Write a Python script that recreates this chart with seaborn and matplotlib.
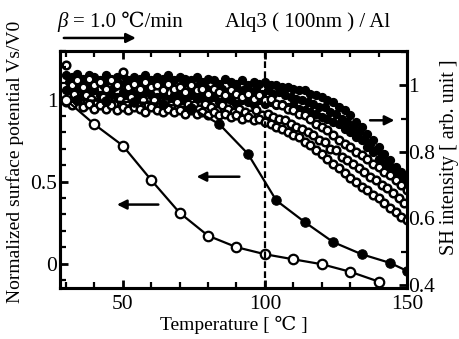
import numpy as np
import pandas as pd
import matplotlib
matplotlib.use('Agg')
import matplotlib.pyplot as plt
import seaborn as sns
from matplotlib.ticker import MultipleLocator, FixedLocator, FuncFormatter

# surface potential (left axis)
temp_open = [30, 40, 50, 60, 70, 80, 90, 100, 110, 120, 130, 140]
vs_open = [1.0, 0.85, 0.72, 0.51, 0.31, 0.17, 0.10, 0.057, 0.026, -0.004, -0.05, -0.11]
temp_fill = [34, 44, 54, 64, 74, 84, 94, 104, 114, 124, 134, 144, 150]
vs_fill = [1.0, 0.99, 0.985, 0.975, 0.95, 0.85, 0.67, 0.385, 0.253, 0.131, 0.057, 0.004, -0.045]

# SH intensity (right axis), several scans
temp_even = [30, 32, 34, 36, 38, 40, 42, 44, 46, 48, 50, 52, 54, 56, 58, 60, 62, 64, 66, 68,
             70, 72, 74, 76, 78, 80, 82, 84, 86, 88, 90, 92, 94, 96, 98, 100, 102, 104, 106, 108,
             110, 112, 114, 116, 118, 120, 122, 124, 126, 128, 130, 132, 134, 136, 138, 140, 142, 144, 146, 148, 150]
temp_odd = [31, 33, 35, 37, 39, 41, 43, 45, 47, 49, 51, 53, 55, 57, 59, 61, 63, 65, 67, 69,
            71, 73, 75, 77, 79, 81, 83, 85, 87, 89, 91, 93, 95, 97, 99, 101, 103, 105, 107, 109,
            111, 113, 115, 117, 119, 121, 123, 125, 127, 129, 131, 133, 135, 137, 139, 141, 143, 145, 147, 149]

sh_fill_a = [1.03, 1.025, 1.035, 1.02, 1.03, 1.025, 1.015, 1.03, 1.02, 1.025, 1.03, 1.015, 1.025, 1.02, 1.03, 1.015, 1.025, 1.02, 1.03, 1.015,
             1.025, 1.02, 1.015, 1.025, 1.01, 1.02, 1.015, 1.005, 1.02, 1.01, 1.005, 1.015, 1.0, 1.01, 1.005, 1.01, 1.0, 1.0, 0.995, 0.995,
             0.99, 0.985, 0.985, 0.975, 0.97, 0.965, 0.955, 0.95, 0.935, 0.925, 0.91, 0.89, 0.875, 0.855, 0.835, 0.815, 0.795, 0.775, 0.755, 0.74, 0.725]
sh_fill_m = [1.01, 0.995, 1.015, 1.005, 0.99, 1.01, 1.0, 1.015, 0.995, 1.005, 1.01, 0.995, 1.005, 1.015, 0.99, 1.0, 1.01, 0.995, 1.005, 0.99,
             1.0, 1.01, 0.99, 1.0, 0.995, 0.985, 1.0, 0.99, 0.98, 0.995, 0.985, 0.99, 0.98, 0.99, 0.975, 0.985, 0.975, 0.98, 0.97, 0.965,
             0.96, 0.955, 0.95, 0.945, 0.935, 0.935, 0.92, 0.915, 0.9, 0.89, 0.875, 0.86, 0.84, 0.825, 0.805, 0.79, 0.77, 0.75, 0.735, 0.715]
sh_fill_b = [0.985, 0.975, 0.99, 0.97, 0.98, 0.985, 0.97, 0.98, 0.975, 0.965, 0.98, 0.97, 0.975, 0.965, 0.98, 0.97, 0.965, 0.975, 0.96, 0.97,
             0.965, 0.955, 0.97, 0.96, 0.965, 0.955, 0.965, 0.95, 0.96, 0.955, 0.945, 0.955, 0.95, 0.94, 0.955, 0.945, 0.95, 0.94, 0.945, 0.935,
             0.94, 0.93, 0.925, 0.92, 0.915, 0.905, 0.9, 0.89, 0.885, 0.87, 0.86, 0.845, 0.835, 0.815, 0.80, 0.78, 0.765, 0.745, 0.73, 0.715, 0.70]
sh_open_c = [1.06, 1.0, 1.015, 0.995, 1.02, 1.0, 1.01, 0.99, 1.015, 1.0, 1.04, 0.995, 1.005, 0.99, 1.01, 0.995, 1.0, 0.985, 1.005, 0.99,
             0.995, 0.98, 1.0, 0.985, 0.99, 0.975, 0.99, 0.98, 0.97, 0.985, 0.975, 0.965, 0.975, 0.96, 0.97, 0.955, 0.96, 0.945, 0.94, 0.93,
             0.925, 0.915, 0.91, 0.90, 0.885, 0.875, 0.865, 0.85, 0.835, 0.825, 0.815, 0.80, 0.79, 0.78, 0.765, 0.755, 0.74, 0.73, 0.715, 0.70, 0.685]
sh_open_e = [0.965, 0.975, 0.955, 0.97, 0.96, 0.95, 0.965, 0.955, 0.945, 0.96, 0.95, 0.965, 0.945, 0.955, 0.94, 0.955, 0.945, 0.95, 0.94, 0.95,
             0.935, 0.945, 0.94, 0.93, 0.945, 0.935, 0.925, 0.94, 0.93, 0.92, 0.93, 0.92, 0.915, 0.925, 0.91, 0.915, 0.905, 0.90, 0.895, 0.885,
             0.875, 0.87, 0.86, 0.85, 0.835, 0.83, 0.81, 0.805, 0.785, 0.775, 0.765, 0.75, 0.74, 0.725, 0.715, 0.70, 0.69, 0.675, 0.66, 0.645]
sh_open_d = [0.95, 0.94, 0.955, 0.935, 0.945, 0.93, 0.94, 0.93, 0.94, 0.925, 0.935, 0.925, 0.935, 0.93, 0.92, 0.935, 0.925, 0.92, 0.93, 0.92,
             0.925, 0.915, 0.925, 0.915, 0.92, 0.91, 0.92, 0.91, 0.915, 0.905, 0.91, 0.90, 0.905, 0.895, 0.90, 0.89, 0.885, 0.875, 0.87, 0.86,
             0.85, 0.845, 0.83, 0.82, 0.805, 0.795, 0.78, 0.765, 0.75, 0.735, 0.72, 0.71, 0.695, 0.685, 0.67, 0.66, 0.645, 0.63, 0.62, 0.605, 0.595]

sns.set_style('ticks')
plt.rcParams['font.family'] = ['Liberation Serif', 'DejaVu Serif']
for key in ['axes.edgecolor', 'xtick.color', 'ytick.color', 'text.color', 'axes.labelcolor']:
    plt.rcParams[key] = 'black'

fig = plt.figure(figsize=(4.59, 3.39), dpi=100)
ax = fig.add_axes([0.131, 0.150, 0.756, 0.701])
ax2 = ax.twinx()

# SH intensity bands
sh_filled = pd.DataFrame({'T': temp_even + temp_odd + temp_even,
                          'SH': sh_fill_a + sh_fill_m + sh_fill_b})
sh_open = pd.DataFrame({'T': temp_even + temp_odd + temp_even,
                        'SH': sh_open_c + sh_open_e + sh_open_d})
sns.scatterplot(data=sh_filled, x='T', y='SH', ax=ax2, s=30, color='black',
                edgecolor='black', linewidth=1.2, zorder=2)
sns.scatterplot(data=sh_open, x='T', y='SH', ax=ax2, s=30, facecolor='white',
                edgecolor='black', linewidth=1.8, zorder=3)

# surface potential curves on top
ax.set_zorder(ax2.get_zorder() + 1)
ax.patch.set_visible(False)
pot_open = pd.DataFrame({'T': temp_open, 'V': vs_open})
pot_fill = pd.DataFrame({'T': temp_fill, 'V': vs_fill})
sns.lineplot(data=pot_fill, x='T', y='V', ax=ax, color='black', lw=1.6, marker='o',
             markersize=6.8, markerfacecolor='black', markeredgecolor='black')
sns.lineplot(data=pot_open, x='T', y='V', ax=ax, color='black', lw=1.6, marker='o',
             markersize=6.8, markerfacecolor='white', markeredgecolor='black', markeredgewidth=1.6)

ax.axvline(100, color='black', ls=(0, (3, 1.5)), lw=1.6)

ax.set_xlim(28, 150)
ax.set_ylim(-0.15, 1.30)
ax2.set_ylim(0.39, 1.105)

ax.xaxis.set_major_locator(FixedLocator([50, 100, 150]))
ax.xaxis.set_minor_locator(MultipleLocator(10))
ax.yaxis.set_major_locator(FixedLocator([0, 0.5, 1]))
ax.yaxis.set_minor_locator(MultipleLocator(0.1))
ax2.yaxis.set_major_locator(FixedLocator([0.4, 0.6, 0.8, 1.0]))
ax2.yaxis.set_minor_locator(MultipleLocator(0.1))
fmt = FuncFormatter(lambda v, p: ('%g' % v))
ax.yaxis.set_major_formatter(fmt)
ax2.yaxis.set_major_formatter(fmt)

ax.tick_params(axis='x', which='both', direction='in', top=True, labelsize=15.5, pad=5)
ax.tick_params(axis='y', which='both', direction='in', right=False, labelsize=15.5, pad=2)
ax.tick_params(which='major', length=6, width=2)
ax.tick_params(which='minor', length=4, width=1.6)
ax2.tick_params(axis='y', which='both', direction='in', labelsize=15.5, pad=1)
ax2.tick_params(which='major', length=6, width=2)
ax2.tick_params(which='minor', length=4, width=1.6)
for a in (ax, ax2):
    for s in a.spines.values():
        s.set_linewidth(2.2)
        s.set_color('black')

ax.set_xlabel('Temperature [ ℃ ]', fontsize=14, labelpad=1)
ax.set_ylabel('Normalized surface potential Vs/V0', fontsize=14)
ax.yaxis.set_label_coords(-0.105, 0.53)
ax2.set_ylabel('SH intensity [ arb. unit ]', fontsize=14.5, labelpad=4)
ax2.yaxis.set_label_coords(1.095, 0.55)

# arrows
arr = dict(arrowstyle='-|>', color='black', lw=1.8, mutation_scale=14)
ax.annotate('', xy=(47, 0.36), xytext=(63.5, 0.36), arrowprops=arr)
ax.annotate('', xy=(75, 0.53), xytext=(92, 0.53), arrowprops=arr)
ax2.annotate('', xy=(146.5, 0.895), xytext=(136, 0.895), arrowprops=arr)
fig.text(0.124, 0.935, 'β', fontsize=15, fontstyle='italic', va='center')
fig.text(0.160, 0.935, '= 1.0 ℃/min', fontsize=15, va='center')
fig.text(0.49, 0.935, 'Alq3 ( 100nm ) / Al', fontsize=15, va='center')
ax.annotate('', xy=(0.302, 0.888), xytext=(0.133, 0.888), xycoords='figure fraction',
            arrowprops=arr)

fig.savefig('out.png', dpi=100)
